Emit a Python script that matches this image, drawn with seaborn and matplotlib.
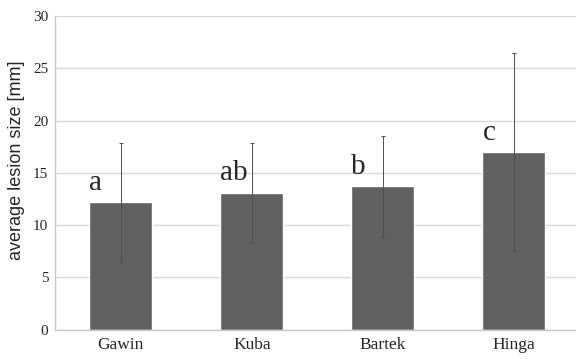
import pandas as pd
import matplotlib
matplotlib.use("Agg")
import matplotlib.pyplot as plt
import seaborn as sns

# data
cultivars = ["Gawin", "Kuba", "Bartek", "Hinga"]
means = [12.2, 13.1, 13.7, 17.0]
errors = [5.7, 4.8, 4.8, 9.5]
letters = ["a", "ab", "b", "c"]

df = pd.DataFrame({"cultivar": cultivars, "mean": means})

sns.set_style("white")
fig = plt.figure(figsize=(5.76, 3.59), dpi=100)
ax = fig.add_axes([0.096, 0.082, 0.91, 0.873])

sns.barplot(data=df, x="cultivar", y="mean", color="#606060", saturation=1,
            width=0.48, errorbar=None, ax=ax, zorder=2)
ax.errorbar(range(len(cultivars)), means, yerr=errors, fmt="none",
            ecolor="#505050", elinewidth=0.7, capsize=1.5, capthick=0.7, zorder=3)

# significance letters, left aligned with the bar
for i, (m, lab) in enumerate(zip(means, letters)):
    ax.text(i - 0.24, m + 0.6, lab, ha="left", va="bottom",
            fontsize=21, family="Liberation Serif")

ax.set_xlim(-0.5, 3.5)
ax.set_ylim(0, 30)
ax.set_yticks(range(0, 31, 5))
ax.yaxis.grid(True, color="#d9d9d9", linewidth=1, zorder=0)
ax.set_axisbelow(True)
for s in ["top", "right"]:
    ax.spines[s].set_visible(False)
for s in ["left", "bottom"]:
    ax.spines[s].set_color("#c8c8c8")
    ax.spines[s].set_linewidth(1)

ax.set_xlabel("")
ax.set_ylabel("average lesion size [mm]", fontsize=13, family="Liberation Sans")
ax.yaxis.set_label_coords(-0.058, 0.54)
ax.tick_params(axis="both", length=0, pad=5)
for t in ax.get_yticklabels():
    t.set_family("Liberation Serif")
    t.set_fontsize(11)
for t in ax.get_xticklabels():
    t.set_family("Liberation Serif")
    t.set_fontsize(12.5)

fig.savefig("out.png", dpi=100)
